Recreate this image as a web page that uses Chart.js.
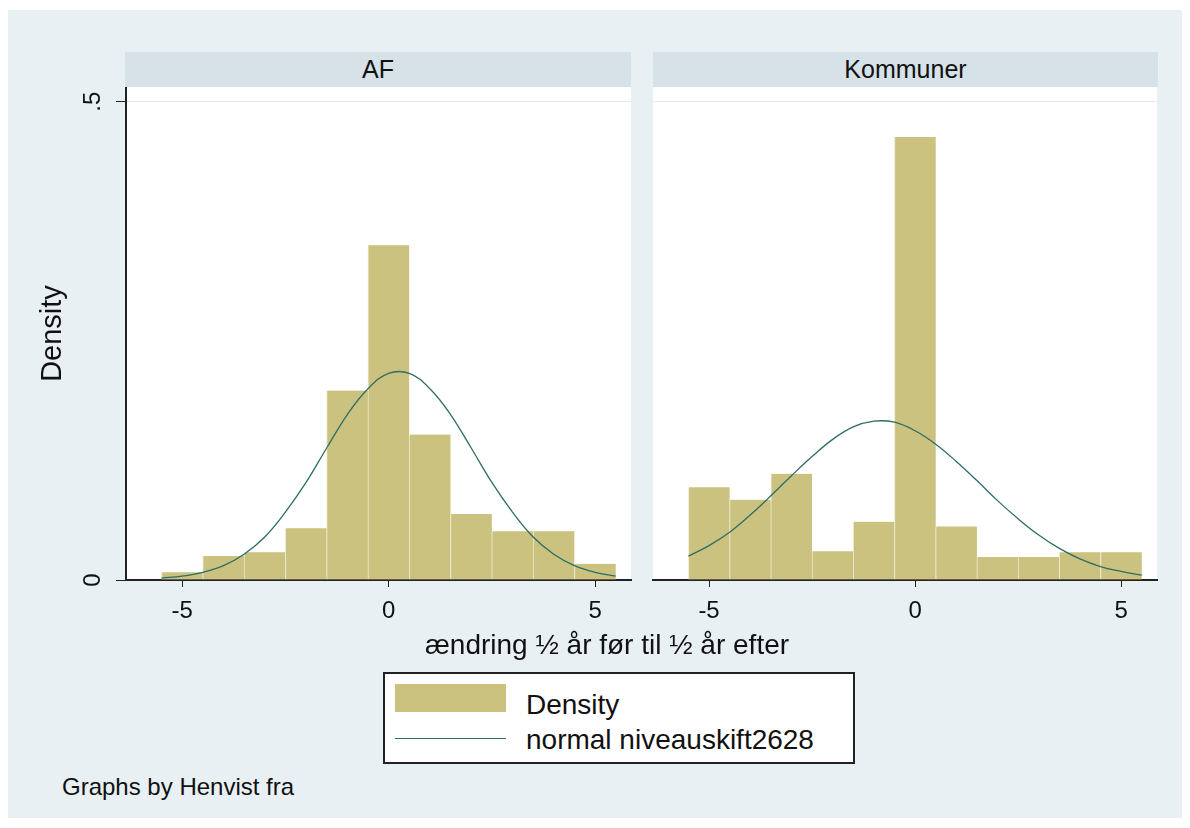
<!DOCTYPE html>
<html>
<head>
<meta charset="utf-8">
<script src="https://cdn.jsdelivr.net/npm/chart.js@4.4.1/dist/chart.umd.min.js"></script>
<style>
body { margin:0; width:1190px; height:828px; background:#fff; position:relative; overflow:hidden;
       font-family:"Liberation Sans", Arial, sans-serif; color:#111; }
#bg { position:absolute; left:8px; top:10px; width:1174px; height:808px; background:#e9f0f3; }
.strip { position:absolute; top:52px; height:35px; line-height:35px; background:#d6e2e8;
         text-align:center; font-size:25px; }
canvas { position:absolute; }
.txt { position:absolute; white-space:nowrap; line-height:1; }
#legend { position:absolute; left:383px; top:672px; width:472px; height:92px; box-sizing:border-box;
          border:2px solid #222; background:#fff; }
</style>
</head>
<body>
<div id="bg"></div>
<div class="strip" id="strip0" style="left:125px; width:506px;"></div>
<div class="strip" id="strip1" style="left:653px; width:505px;"></div>
<canvas id="c0" width="620" height="560" style="left:20px; top:87px;"></canvas>
<canvas id="c1" width="530" height="560" style="left:643px; top:87px;"></canvas>
<div class="txt" id="xtitle" style="left:307px; width:600px; text-align:center; top:631px; font-size:28px;"></div>
<div id="legend"></div>
<div style="position:absolute; left:395px; top:684px; width:111px; height:28px; background:#cac27e;"></div>
<div style="position:absolute; left:395px; top:738px; width:111px; height:1px; background:#2d6d66;"></div>
<div class="txt" id="leg0" style="left:526px; top:691px; font-size:28px;"></div>
<div class="txt" id="leg1" style="left:526px; top:726px; font-size:28px;"></div>
<div class="txt" id="note" style="left:62px; top:775px; font-size:24px;"></div>

<script>
// histogram bins (width 1) and densities
var binCenters = [-5, -4, -3, -2, -1, 0, 1, 2, 3, 4, 5];
var densAF  = [0.008, 0.025, 0.029, 0.054, 0.198, 0.350, 0.152, 0.069, 0.051, 0.051, 0.017];
var densKom = [0.097, 0.084, 0.111, 0.030, 0.061, 0.463, 0.056, 0.024, 0.024, 0.029, 0.029];

// normal curves, read every half unit
var curveX  = [-5.5, -5, -4.5, -4, -3.5, -3, -2.5, -2, -1.5, -1, -0.5, 0, 0.5, 1, 1.5, 2, 2.5, 3, 3.5, 4, 4.5, 5, 5.5];
var normAF  = [0.002, 0.004, 0.008, 0.015, 0.027, 0.045, 0.071, 0.102, 0.138, 0.173, 0.200, 0.216,
               0.216, 0.200, 0.173, 0.138, 0.102, 0.071, 0.045, 0.027, 0.015, 0.008, 0.004];
var normKom = [0.025, 0.036, 0.050, 0.068, 0.088, 0.109, 0.129, 0.147, 0.160, 0.166, 0.165, 0.156,
               0.142, 0.124, 0.104, 0.083, 0.064, 0.047, 0.033, 0.022, 0.014, 0.009, 0.005];

var xTicks = [-5, 0, 5];
var yTicks = [0, 0.5];
var yTickLabels = ['0', '.5'];
var panelTitles = ['AF', 'Kommuner'];
var xTitle = 'ændring ½ år før til ½ år efter';
var yTitle = 'Density';
var legendLabels = ['Density', 'normal niveauskift2628'];
var note = 'Graphs by Henvist fra';

var FONT = '"Liberation Sans", Arial, sans-serif';
var barColor = '#cac27e';
var lineColor = '#2d6d66';

document.getElementById('strip0').textContent = panelTitles[0];
document.getElementById('strip1').textContent = panelTitles[1];
document.getElementById('xtitle').textContent = xTitle;
document.getElementById('leg0').textContent = legendLabels[0];
document.getElementById('leg1').textContent = legendLabels[1];
document.getElementById('note').textContent = note;

// white plot region
var plotBg = {
	id: 'plotBg',
	beforeDraw: function(chart) {
		var a = chart.chartArea, ctx = chart.ctx;
		ctx.save();
		ctx.fillStyle = '#fff';
		ctx.fillRect(a.left, a.top, a.right - a.left, a.bottom - a.top);
		ctx.restore();
	}
};

// stata style vertical y tick labels
var rotYLabels = {
	id: 'rotYLabels',
	afterDraw: function(chart) {
		var s = chart.scales.y, ctx = chart.ctx;
		ctx.save();
		ctx.font = '24px ' + FONT;
		ctx.fillStyle = '#111';
		ctx.textAlign = 'center';
		ctx.textBaseline = 'middle';
		for (var i = 0; i < yTicks.length; i++) {
			ctx.save();
			ctx.translate(s.right - 33, s.getPixelForValue(yTicks[i]));
			ctx.rotate(-Math.PI / 2);
			ctx.fillText(yTickLabels[i], 0, 0);
			ctx.restore();
		}
		ctx.restore();
	}
};

function makeChart(id, dens, norm, first) {
	var bars = [], pts = [];
	for (var i = 0; i < binCenters.length; i++) bars.push({x: binCenters[i], y: dens[i]});
	for (var j = 0; j < curveX.length; j++) pts.push({x: curveX[j], y: norm[j]});

	var plugins = [plotBg];
	if (first) plugins.push(rotYLabels);

	return new Chart(document.getElementById(id), {
		type: 'bar',
		data: {
			datasets: [{
				type: 'line', data: pts, borderColor: lineColor, borderWidth: 1.3,
				pointRadius: 0, tension: 0.4, fill: false, order: 1
			}, {
				type: 'bar', data: bars, backgroundColor: barColor, borderColor: '#ece8cc',
				borderWidth: {left: 1, right: 0, top: 0, bottom: 0},
				barPercentage: 1, categoryPercentage: 1, order: 2
			}]
		},
		options: {
			responsive: false,
			animation: false,
			layout: {padding: {left: 0, right: first ? 9 : 16, top: 0, bottom: 0}},
			plugins: {legend: {display: false}, tooltip: {enabled: false}},
			scales: {
				x: {
					type: 'linear', min: -6.36, max: 5.87, offset: false,
					afterBuildTicks: function(s) { s.ticks = xTicks.map(function(v) { return {value: v}; }); },
					afterFit: function(s) { s.height = 67; },
					grid: {drawOnChartArea: false, drawTicks: true, tickLength: 7, tickColor: '#222', offset: false},
					border: {display: true, color: '#222', width: 2},
					ticks: {font: {size: 24, family: FONT}, color: '#111', padding: 10, maxRotation: 0,
						callback: function(v) { return String(v); }}
				},
				y: {
					min: 0, max: 0.5154,
					afterBuildTicks: function(s) { s.ticks = yTicks.map(function(v) { return {value: v}; }); },
					afterFit: function(s) { s.width = first ? 106 : 10; },
					ticks: {display: false},
					grid: {
						color: function(c) { return c.tick && c.tick.value === 0.5 ? '#ebebeb' : 'rgba(0,0,0,0)'; },
						drawTicks: first, tickLength: 10, tickColor: '#222'
					},
					border: {display: first, color: '#222', width: 2},
					title: {display: first, text: yTitle, color: '#111',
						font: {size: 29, family: FONT}, padding: {top: 16, bottom: 0}}
				}
			}
		},
		plugins: plugins
	});
}

makeChart('c0', densAF, normAF, true);
makeChart('c1', densKom, normKom, false);
</script>
</body>
</html>
